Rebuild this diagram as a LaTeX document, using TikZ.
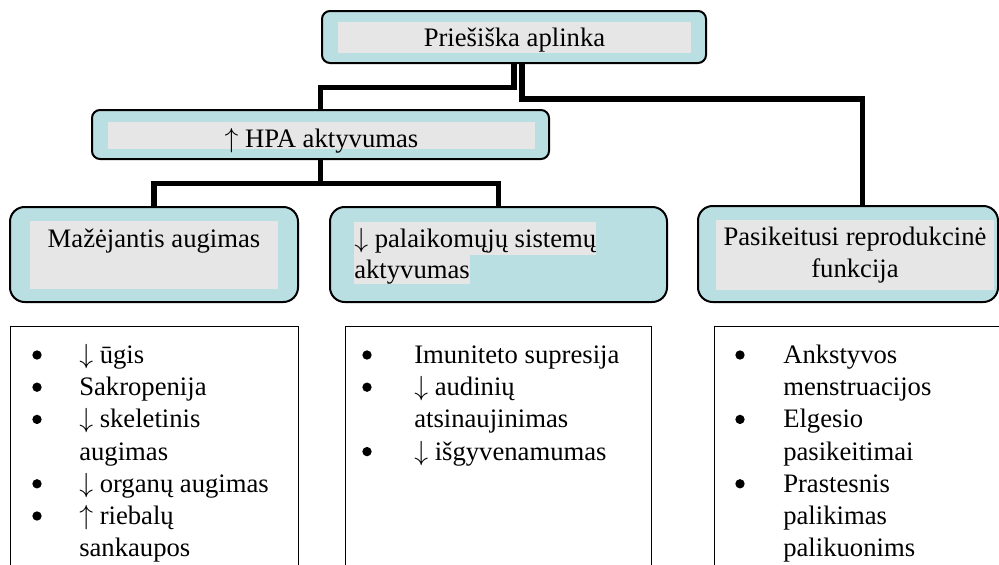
\documentclass[tikz,border=0pt]{standalone}
\usepackage{fontspec}
\setmainfont{Liberation Serif}
\definecolor{cteal}{HTML}{B9DFE3}
\definecolor{cgrey}{HTML}{E6E6E6}
\newcommand{\arrdn}{$\downarrow$}
\newcommand{\arrup}{$\uparrow$}
\tikzset{
  every picture/.style={font=\fontsize{20}{24}\selectfont},
  outer/.style={draw=black, fill=cteal, line width=1.5pt, rounded corners=#1, inner sep=0pt},
  outer/.default=6pt,
  inbox/.style={fill=cgrey, inner sep=0pt, align=center},
  hilite/.style={fill=cgrey, inner sep=0pt, anchor=base west},
  link/.style={draw=black, line width=4pt},
  listbox/.style={draw=black, line width=1.1pt, inner sep=0pt, anchor=north west, minimum height=200pt},
  item/.style={inner sep=0pt, anchor=base west},
  dot/.style={circle, fill=black, inner sep=0pt, minimum size=7pt},
}

\begin{document}
\begin{tikzpicture}[x=0.75pt, y=-0.75pt]
  \useasboundingbox (0,0) rectangle (999,564);
  \clip (0,0) rectangle (999,564);
  % top and middle boxes
  \node[outer, minimum width=288pt, minimum height=39pt] (top) at (514,37) {};
  \node[inbox, minimum width=264.75pt, text height=18pt, text depth=5.25pt] (topin) at (514.5,37.5) {Priešiška aplinka};
  \node[outer, minimum width=342.75pt, minimum height=36.75pt] (hpa) at (320.5,134.5) {};
  \node[inbox, minimum width=320.25pt, text height=18.75pt, text depth=1.5pt] (hpain) at (321.5,135.5) {\arrup{} HPA aktyvumas};
  % third row
  \node[outer=11pt, minimum width=216pt, minimum height=71.25pt] (grow) at (154,254.5) {};
  \node[inbox, minimum width=186pt, text height=19.5pt, text depth=31.5pt] (growin) at (154,255) {Mažėjantis augimas};
  \node[outer=11pt, minimum width=252.75pt, minimum height=71.25pt] (supp) at (498.5,254.5) {};
  \node[hilite, text height=18.75pt, text depth=6pt] (supp1) at (354,247) {\arrdn{} palaikomųjų sistemų};
  \node[hilite, text height=17.25pt, text depth=4.5pt] (supp2) at (354,278) {aktyvumas};
  \node[outer=11pt, minimum width=225pt, minimum height=72pt] (repr) at (848,254) {};
  \node[inbox, minimum width=208.5pt, minimum height=52.5pt] (reprin) at (855,255) {Pasikeitusi reprodukcinė\\funkcija};

  % connectors
  \draw[link] (top.south) -- ++(0,23.5) -| (hpa.north);
  \draw[link] ([xshift=6pt]top.south) -- ++(0,35) -| ([xshift=10.9pt]repr.north);
  \coordinate (hj) at ([yshift=-17.6pt]hpa.south);
  \draw[link] (hpa.south) -- (hj);
  \draw[link] (grow.north) |- (hj) -| (supp.north);

  % bullet lists
  \node[listbox, minimum width=216pt] (lista) at (10,326) {};
  \node[listbox, minimum width=229.5pt] (listb) at (345,326) {};
  \node[listbox, minimum width=225pt] (listc) at (714,326) {};
  \foreach \b/\t [count=\i] in {1/\arrdn{} ūgis, 1/Sakropenija, 1/\arrdn{} skeletinis, 0/augimas, 1/\arrdn{} organų augimas, 1/\arrup{} riebalų, 0/sankaupos}{
    \node[item] (a\i) at (79,331.3+32.2*\i) {\t};
    \ifnum\b=1 \node[dot] (ad\i) at (37,322.8+32.2*\i) {};\fi
  }
  \foreach \b/\t [count=\i] in {1/Imuniteto supresija, 1/\arrdn{} audinių, 0/atsinaujinimas, 1/\arrdn{} išgyvenamumas}{
    \node[item] (b\i) at (414,331.3+32.2*\i) {\t};
    \ifnum\b=1 \node[dot] (bd\i) at (367,322.8+32.2*\i) {};\fi
  }
  \foreach \b/\t [count=\i] in {1/Ankstyvos, 0/menstruacijos, 1/Elgesio, 0/pasikeitimai, 1/Prastesnis, 0/palikimas, 0/palikuonims}{
    \node[item] (c\i) at (783,331.3+32.2*\i) {\t};
    \ifnum\b=1 \node[dot] (cd\i) at (740,322.8+32.2*\i) {};\fi
  }
\end{tikzpicture}
\end{document}
